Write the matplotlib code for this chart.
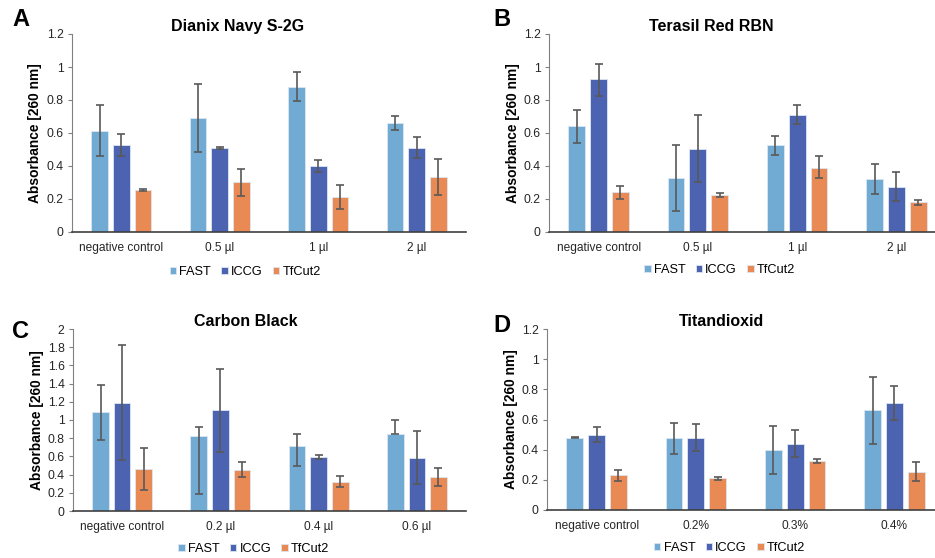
import numpy as np
import matplotlib
matplotlib.use("Agg")
import matplotlib.pyplot as plt

plt.rcParams['font.family'] = ['Liberation Sans', 'DejaVu Sans']

series = ['FAST', 'ICCG', 'TfCut2']
colors = ['#71abd3', '#4b63b0', '#e98a55']

# Panel A - Dianix Navy S-2G
cats_a = ['negative control', '0.5 µl', '1 µl', '2 µl']
fast_a = [0.615, 0.69, 0.88, 0.66]
fast_a_lo = [0.155, 0.205, 0.085, 0.04]
fast_a_hi = [0.155, 0.205, 0.09, 0.045]
iccg_a = [0.525, 0.51, 0.40, 0.51]
iccg_a_lo = [0.065, 0.004, 0.035, 0.06]
iccg_a_hi = [0.07, 0.004, 0.035, 0.065]
tfc_a = [0.255, 0.30, 0.21, 0.335]
tfc_a_lo = [0.007, 0.083, 0.072, 0.11]
tfc_a_hi = [0.007, 0.083, 0.072, 0.11]

# Panel B - Terasil Red RBN
cats_b = ['negative control', '0.5 µl', '1 µl', '2 µl']
fast_b = [0.64, 0.325, 0.525, 0.32]
fast_b_lo = [0.10, 0.195, 0.057, 0.09]
fast_b_hi = [0.10, 0.20, 0.055, 0.09]
iccg_b = [0.925, 0.505, 0.71, 0.275]
iccg_b_lo = [0.10, 0.20, 0.055, 0.09]
iccg_b_hi = [0.095, 0.205, 0.06, 0.09]
tfc_b = [0.24, 0.225, 0.39, 0.18]
tfc_b_lo = [0.04, 0.012, 0.065, 0.015]
tfc_b_hi = [0.04, 0.012, 0.07, 0.015]

# Panel C - Carbon Black
cats_c = ['negative control', '0.2 µl', '0.4 µl', '0.6 µl']
fast_c = [1.09, 0.82, 0.715, 0.85]
fast_c_lo = [0.31, 0.63, 0.225, 0.0]
fast_c_hi = [0.295, 0.105, 0.13, 0.155]
iccg_c = [1.19, 1.11, 0.59, 0.585]
iccg_c_lo = [0.63, 0.465, 0.017, 0.285]
iccg_c_hi = [0.63, 0.455, 0.02, 0.295]
tfc_c = [0.46, 0.45, 0.32, 0.37]
tfc_c_lo = [0.225, 0.075, 0.06, 0.10]
tfc_c_hi = [0.23, 0.085, 0.065, 0.105]

# Panel D - Titandioxid
cats_d = ['negative control', '0.2%', '0.3%', '0.4%']
fast_d = [0.478, 0.475, 0.40, 0.66]
fast_d_lo = [0.003, 0.105, 0.16, 0.225]
fast_d_hi = [0.003, 0.105, 0.16, 0.22]
iccg_d = [0.50, 0.48, 0.44, 0.71]
iccg_d_lo = [0.05, 0.09, 0.088, 0.11]
iccg_d_hi = [0.05, 0.09, 0.088, 0.115]
tfc_d = [0.23, 0.21, 0.325, 0.255]
tfc_d_lo = [0.038, 0.008, 0.015, 0.062]
tfc_d_hi = [0.038, 0.008, 0.015, 0.062]

W, H = 935, 558
fig = plt.figure(figsize=(W / 100, H / 100), dpi=100)


def px_axes(left, right, top, bottom):
    # pixel box -> figure fraction
    return fig.add_axes([left / W, 1 - bottom / H, (right - left) / W, (bottom - top) / H])


def draw_panel(ax, cats, vals, lows, highs, ymax, title, title_x, letter, letter_xy, legend_y):
    x = np.arange(len(cats))
    bw = 0.17
    for i, (v, lo, hi) in enumerate(zip(vals, lows, highs)):
        pos = x + (i - 1) * 0.22
        ax.bar(pos, v, bw, color=colors[i], edgecolor='#dce6f2', linewidth=0.6,
               label=series[i], zorder=2)
        ax.errorbar(pos, v, yerr=[lo, hi], fmt='none', ecolor='#595959',
                    elinewidth=1.2, capsize=2.6, capthick=1.2, zorder=3)
    ax.set_xlim(-0.5, len(cats) - 0.5)
    ax.set_ylim(0, ymax)
    ticks = np.arange(0, ymax + 0.001, 0.2)
    ax.set_yticks(ticks)
    ax.set_yticklabels(['%g' % round(t, 1) for t in ticks])
    ax.set_xticks(x)
    ax.set_xticklabels(cats)
    ax.tick_params(axis='x', length=0, pad=7, labelsize=8.6, colors='#262626')
    ax.tick_params(axis='y', length=3, width=0.8, color='#808080', labelsize=8.8,
                   labelcolor='#262626', pad=3)
    for s in ['top', 'right']:
        ax.spines[s].set_visible(False)
    ax.spines['left'].set_color('#808080')
    ax.spines['bottom'].set_color('#404040')
    ax.spines['bottom'].set_linewidth(1.2)
    ax.set_ylabel('Absorbance [260 nm]', fontsize=9.9, fontweight='bold', labelpad=3)
    ax.set_title(title, x=title_x, fontsize=11.5, fontweight='bold', pad=0)
    fig.text(letter_xy[0] / W, 1 - letter_xy[1] / H, letter, fontsize=17,
             fontweight='bold', ha='left', va='center')
    ax.legend(loc='center', bbox_to_anchor=(title_x + 0.02, 1 - legend_y), ncol=3,
              frameon=False, fontsize=9.2, handlelength=0.5, handleheight=0.5,
              handletextpad=0.25, columnspacing=0.8)


ax_a = px_axes(72, 466, 34, 232)
draw_panel(ax_a, cats_a, [fast_a, iccg_a, tfc_a], [fast_a_lo, iccg_a_lo, tfc_a_lo],
           [fast_a_hi, iccg_a_hi, tfc_a_hi], 1.2, 'Dianix Navy S-2G', 0.42, 'A', (12, 20),
           (272 - 34) / (232 - 34))

ax_b = px_axes(549, 946, 34, 232)
draw_panel(ax_b, cats_b, [fast_b, iccg_b, tfc_b], [fast_b_lo, iccg_b_lo, tfc_b_lo],
           [fast_b_hi, iccg_b_hi, tfc_b_hi], 1.2, 'Terasil Red RBN', 0.41, 'B', (493, 19),
           (270 - 34) / (232 - 34))

ax_c = px_axes(73, 466, 329, 511)
draw_panel(ax_c, cats_c, [fast_c, iccg_c, tfc_c], [fast_c_lo, iccg_c_lo, tfc_c_lo],
           [fast_c_hi, iccg_c_hi, tfc_c_hi], 2.0, 'Carbon Black', 0.44, 'C', (12, 331),
           (549 - 329) / (511 - 329))

ax_d = px_axes(547, 944, 329, 510)
draw_panel(ax_d, cats_d, [fast_d, iccg_d, tfc_d], [fast_d_lo, iccg_d_lo, tfc_d_lo],
           [fast_d_hi, iccg_d_hi, tfc_d_hi], 1.2, 'Titandioxid', 0.44, 'D', (493, 326),
           (548 - 329) / (510 - 329))

# title heights in pixels above axes top
for ax, ty, top, bot in [(ax_a, 18, 34, 232), (ax_b, 25, 34, 232),
                         (ax_c, 322, 329, 511), (ax_d, 313, 329, 510)]:
    ax.title.set_y((bot - ty) / (bot - top))
    ax.title.set_va('center')

fig.savefig('out.png', dpi=100)
